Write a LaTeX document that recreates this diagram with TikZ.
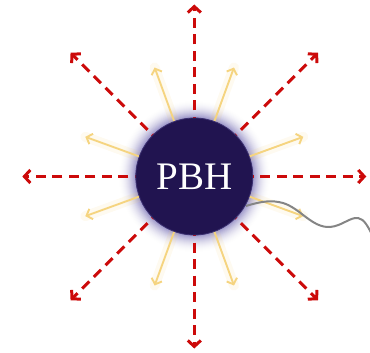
\documentclass[tikz,border=0pt]{standalone}
\usepackage{fontspec}
\setmainfont{Liberation Serif}
\usetikzlibrary{arrows.meta}
\definecolor{pbhfill}{HTML}{211450}
\definecolor{pbhedge}{HTML}{3A2F70}
\definecolor{glowc}{HTML}{9A94C8}
\definecolor{redc}{HTML}{CC0A0A}
\definecolor{yelc}{HTML}{F5D480}
\definecolor{wavec}{HTML}{858585}
\tikzset{
  redarrow/.style={draw=redc, line width=3pt, dash pattern=on 10pt off 6.5pt,
    -{Straight Barb[length=6pt,width=13pt,line width=3pt]}},
  yelarrow/.style={draw=yelc, line width=1.9pt, -{Straight Barb[length=5pt,width=11pt]}},
  yelhalo/.style={draw=yelc, line width=10pt, opacity=0.12, line cap=round},
  wave/.style={draw=wavec, line width=2pt},
  pbh/.style={circle, fill=pbhfill, draw=pbhedge, line width=0.8pt, minimum size=117pt, inner sep=0pt,
    text=white, font=\fontsize{39}{39}\selectfont},
}
\begin{document}
\begin{tikzpicture}[x=1pt,y=-1pt]
\useasboundingbox (0,0) rectangle (370,353);
\coordinate (c) at (194.3,176.5);
% glow
\foreach \i in {0,...,18}{
  \pgfmathsetmacro\rr{77-\i}
  \pgfmathsetmacro\pp{100*(\i/18)^2}
  \fill[glowc!\pp!white] (c) circle (\rr);
}
% yellow arrows
\foreach \a in {20,70,110,160,200,250,290,340}{
  \path (c) ++(\a:116) coordinate (y\a);
  \draw[yelhalo] (c) -- (y\a);
  \draw[yelarrow] (c) -- (y\a);
}
% red arrows
\foreach \a in {0,90,180,270}{
  \path (c) ++(\a:172) coordinate (r\a);
  \draw[redarrow] (c) -- (r\a);
}
\foreach \a in {45,135,225,315}{
  \path (c) ++(\a:175) coordinate (r\a);
  \draw[redarrow] (c) -- (r\a);
}
% wave
\coordinate (w0) at (246,206);
\coordinate (wend) at (373,237);
\draw[wave] (w0) .. controls (262,201) and (272,200) .. (283,203)
  .. controls (300,208) and (312,228) .. (330,227)
  .. controls (342,226) and (350,217) .. (358,218)
  .. controls (364,219) and (368,226) .. (wend);
% PBH
\node[pbh] (p) at (c) {PBH};
\end{tikzpicture}
\end{document}
